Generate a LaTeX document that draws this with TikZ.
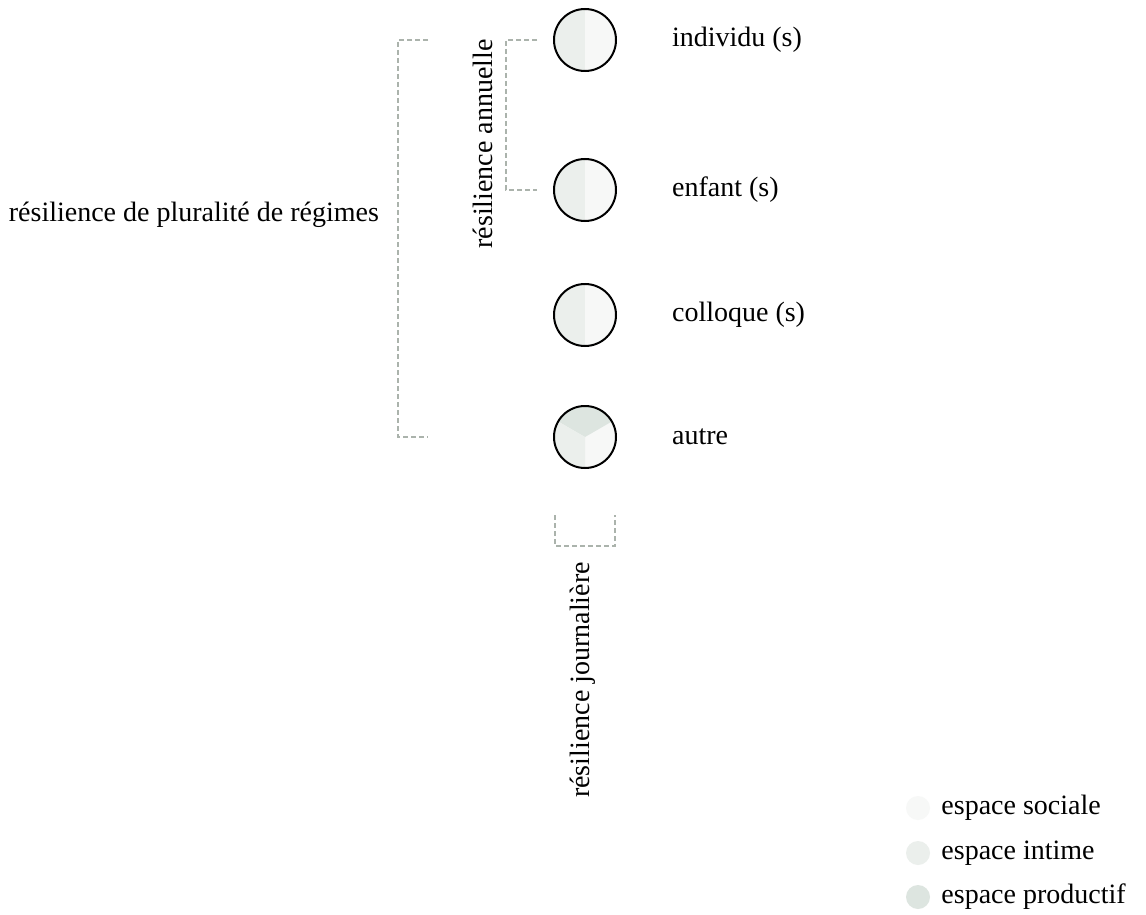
\documentclass[tikz,border=0pt]{standalone}
\usepackage{fontspec}
\setmainfont{Liberation Serif}
\usepackage{tikz}
\usetikzlibrary{positioning}
\definecolor{sociale}{HTML}{F7F8F7}
\definecolor{intime}{HTML}{EBEFEC}
\definecolor{productif}{HTML}{DDE5E0}
\definecolor{gristiret}{HTML}{ABB3AC}
\begin{document}
\begin{tikzpicture}[x=0.5pt, y=0.5pt,
    every node/.style={font=\fontsize{14}{17}\selectfont},
    cercle/.style={circle, draw=black, line width=1pt, minimum size=31pt, inner sep=0pt},
    moitie/.style={cercle, path picture={
        \fill[intime] (path picture bounding box.south west) rectangle (path picture bounding box.north);
        \fill[sociale] (path picture bounding box.south) rectangle (path picture bounding box.north east);}},
    tiers/.style={cercle, path picture={
        \fill[sociale] (path picture bounding box.south west) rectangle (path picture bounding box.north east);
        \fill[productif] (path picture bounding box.center) -- +(30:30pt) -- +(90:30pt) -- +(150:30pt) -- cycle;
        \fill[intime] (path picture bounding box.center) -- +(150:30pt) -- +(210:30pt) -- +(270:30pt) -- cycle;}},
    crochet/.style={draw=gristiret, line width=0.75pt, dash pattern=on 2.5pt off 1.5pt},
    legende/.style={circle, minimum size=12pt, inner sep=0pt}]
        \path[use as bounding box, fill=white] (0,0) rectangle (1146,-915);
        % Draw the circles
        \node[moitie] (individu) at (585,-40) {};
        \node[moitie] (enfant) at (585,-190) {};
        \node[moitie] (colloque) at (585,-315) {};
        \node[tiers] (autre) at (585,-437) {};
        % Label the circles
        \node[right=24pt of individu] (tindividu) {individu (s)};
        \node[right=24pt of enfant] (tenfant) {enfant (s)};
        \node[right=24pt of colloque] (tcolloque) {colloque (s)};
        \node[right=24pt of autre] (tautre) {autre};

        % Draw the brackets
        \draw[crochet] (428,-40) -- (398,-40) -- (398,-437) -- (428,-437);
        \draw[crochet] (537,-40) -- (506,-40) -- (506,-190) -- (537,-190);
        \draw[crochet] (555,-515) -- (555,-546) -- (615,-546) -- (615,-515);
        % Label the brackets
        \node[anchor=east] (pluralite) at (386,-215) {résilience de pluralité de régimes};
        \node[rotate=90] (annuelle) at (483,-144) {résilience annuelle};
        \node[rotate=90] (journaliere) at (583,-680) {résilience journalière};

        % Draw the legend
        \node[legende, fill=sociale] (lsociale) at (918,-808) {};
        \node[legende, fill=intime] (lintime) at (918,-853) {};
        \node[legende, fill=productif] (lproductif) at (918,-897) {};
        \node[right=2pt of lsociale] {espace sociale};
        \node[right=2pt of lintime] {espace intime};
        \node[right=2pt of lproductif] {espace productif};
    \end{tikzpicture}
\end{document}
